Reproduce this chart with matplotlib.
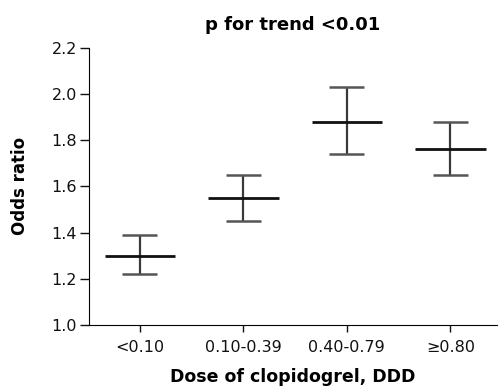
import matplotlib
matplotlib.use('Agg')
import matplotlib.pyplot as plt

plt.rcParams['font.family'] = ['DejaVu Sans']

categories = ['<0.10', '0.10-0.39', '0.40-0.79', '\u22650.80']
odds_ratio = [1.30, 1.55, 1.88, 1.76]
ci_low = [1.22, 1.45, 1.74, 1.65]
ci_high = [1.39, 1.65, 2.03, 1.88]

x = list(range(len(categories)))

fig = plt.figure(figsize=(5, 3.9), dpi=100)
ax = fig.add_axes([0.178, 0.167, 0.816, 0.71])

# CI whiskers, caps and mean line
ax.vlines(x, ci_low, ci_high, color='#3a3a3a', lw=1.6)
ax.hlines(ci_low, [i - 0.17 for i in x], [i + 0.17 for i in x], color='#555555', lw=1.8)
ax.hlines(ci_high, [i - 0.17 for i in x], [i + 0.17 for i in x], color='#555555', lw=1.8)
ax.hlines(odds_ratio, [i - 0.34 for i in x], [i + 0.34 for i in x], color='#111111', lw=2.0)

ax.set_xlim(-0.49, 3.45)
ax.set_ylim(1.0, 2.2)
ax.set_yticks([1.0, 1.2, 1.4, 1.6, 1.8, 2.0, 2.2])
ax.set_yticklabels(['1.0', '1.2', '1.4', '1.6', '1.8', '2.0', '2.2'])
ax.set_xticks(x)
ax.set_xticklabels(categories)

ax.spines['top'].set_visible(False)
ax.spines['right'].set_visible(False)
ax.tick_params(axis='y', length=6.5, width=1, labelsize=11.5, pad=2, colors='#111111')
ax.tick_params(axis='x', length=5, width=1, labelsize=11.5, pad=6, colors='#111111')

ax.set_ylabel('Odds ratio', fontsize=12, fontweight='bold', labelpad=16)
ax.set_xlabel('Dose of clopidogrel, DDD', fontsize=12.5, fontweight='bold', labelpad=9)
ax.set_title('p for trend <0.01', fontsize=13, fontweight='bold', pad=13)

fig.savefig('out.png', dpi=100)
